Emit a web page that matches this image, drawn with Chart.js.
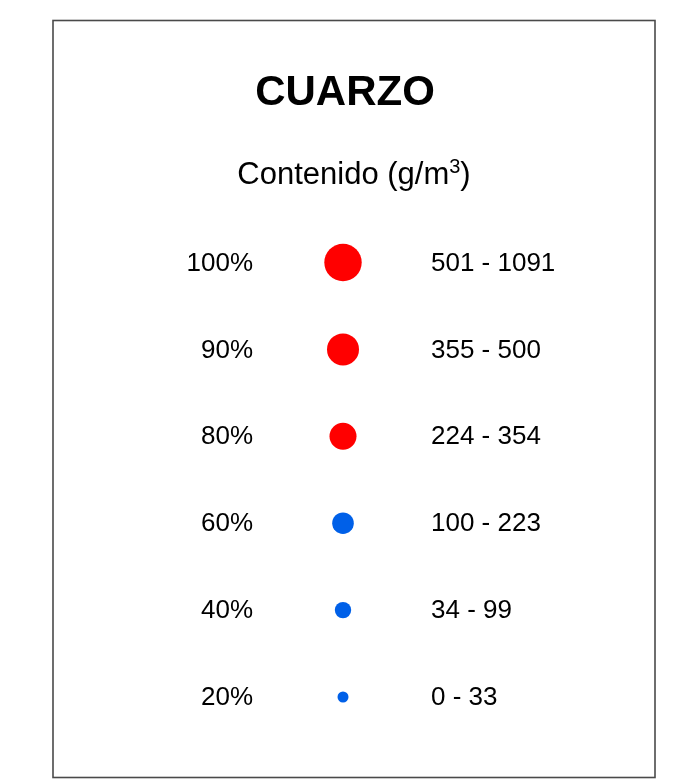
<!DOCTYPE html>
<html>
<head>
<meta charset="utf-8">
<script src="https://cdn.jsdelivr.net/npm/chart.js@4.4.1/dist/chart.umd.min.js"></script>
<style>
  html, body { margin: 0; padding: 0; background: #fff; }
  #wrap { width: 675px; height: 784px; }
</style>
</head>
<body>
<div id="wrap"><canvas id="chart"></canvas></div>
<script>
const titleText = 'CUARZO';
const subtitleText = 'Contenido (g/m';
const subtitleSup = '3';
const percents = ['100%', '90%', '80%', '60%', '40%', '20%'];
const ranges = ['501 - 1091', '355 - 500', '224 - 354', '100 - 223', '34 - 99', '0 - 33'];

// estilo de los simbolos
const radii = [18.7, 16, 13.5, 10.8, 8.2, 5.5];
const colors = ['#ff0000', '#ff0000', '#ff0000', '#0060e8', '#0060e8', '#0060e8'];
const FONT = '"Liberation Sans", Arial, sans-serif';

const framePlugin = {
    id: 'frame',
    beforeDraw(chart) {
        const ctx = chart.ctx;
        ctx.save();
        ctx.fillStyle = '#fff';
        ctx.fillRect(0, 0, chart.width, chart.height);
        ctx.strokeStyle = '#4a4a4a';
        ctx.lineWidth = 1.6;
        ctx.strokeRect(53, 20.5, 602, 757);
        ctx.restore();
    },
    afterDraw(chart) {
        const ctx = chart.ctx;
        const cx = 345;
        ctx.save();
        ctx.fillStyle = '#000';
        ctx.textBaseline = 'alphabetic';
        ctx.textAlign = 'center';
        ctx.font = 'bold 42px ' + FONT;
        ctx.fillText(titleText, cx, 105);

        // subtitulo con superindice
        ctx.font = '31px ' + FONT;
        const wMain = ctx.measureText(subtitleText).width;
        const wClose = ctx.measureText(')').width;
        ctx.font = '20px ' + FONT;
        const wSup = ctx.measureText(subtitleSup).width;
        const start = 354 - (wMain + wSup + wClose) / 2;
        ctx.textAlign = 'left';
        ctx.font = '31px ' + FONT;
        ctx.fillText(subtitleText, start, 184);
        ctx.fillText(')', start + wMain + wSup, 184);
        ctx.font = '20px ' + FONT;
        ctx.fillText(subtitleSup, start + wMain, 173);
        ctx.restore();
    }
};

new Chart(document.getElementById('chart'), {
    type: 'scatter',
    data: {
        datasets: [{
            data: percents.map(p => ({ x: 0, y: p })),
            pointRadius: radii,
            pointBackgroundColor: colors,
            pointBorderWidth: 0,
            clip: false
        }]
    },
    options: {
        responsive: true,
        maintainAspectRatio: false,
        animation: false,
        events: [],
        layout: { padding: { top: 262.5, bottom: 87, left: 0, right: 0 } },
        plugins: {
            legend: { display: false },
            tooltip: { enabled: false },
            title: { display: false }
        },
        scales: {
            x: { type: 'linear', min: -1, max: 1, display: false },
            y: {
                type: 'category',
                labels: percents,
                position: 'left',
                offset: false,
                grid: { display: false, drawTicks: false },
                border: { display: false },
                ticks: { padding: 10, labelOffset: 1, color: '#000', font: { family: FONT, size: 26 } },
                afterFit(scale) { scale.width = 263; }
            },
            y2: {
                type: 'category',
                labels: ranges,
                position: 'right',
                offset: false,
                grid: { display: false, drawTicks: false },
                border: { display: false },
                ticks: { padding: 8, labelOffset: 1, color: '#000', font: { family: FONT, size: 26 } },
                afterFit(scale) { scale.width = 252; }
            }
        }
    },
    plugins: [framePlugin]
});
</script>
</body>
</html>
